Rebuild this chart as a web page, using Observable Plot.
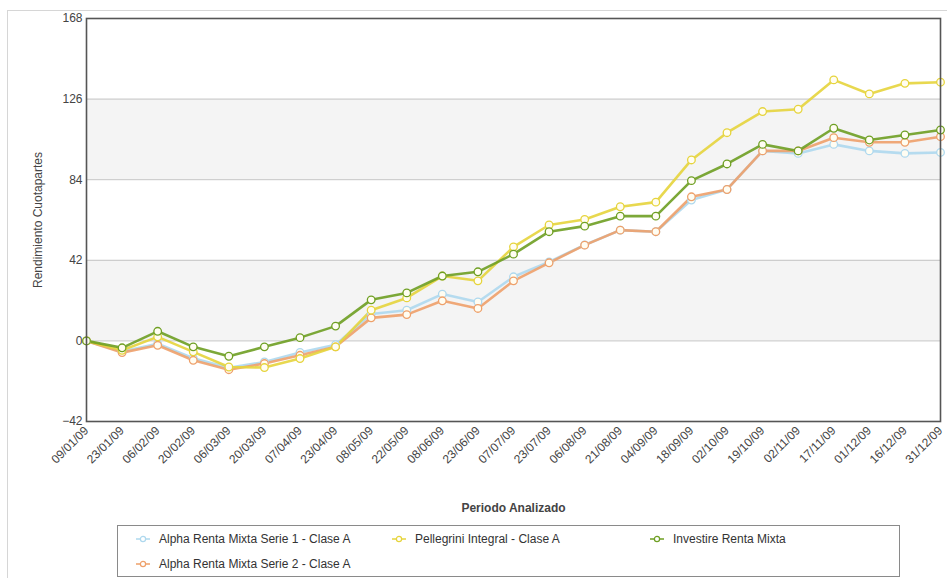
<!DOCTYPE html>
<html><head><meta charset="utf-8">
<script src="https://cdn.jsdelivr.net/npm/d3@7"></script>
<script src="https://cdn.jsdelivr.net/npm/@observablehq/plot@0.6"></script>
<style>
body{margin:0;background:#fff;font-family:"Liberation Sans",Arial,sans-serif;}
#frame{position:absolute;left:7px;top:10px;width:960px;height:600px;border:1px solid #d6d6d6;}
#chart{position:absolute;left:0;top:0;}
#chart svg [aria-label="x-axis label"] text{font-weight:bold;}
#legend{position:absolute;left:117px;top:525px;width:783px;height:52px;border:1px solid #8a8a8a;box-sizing:border-box;
  display:grid;grid-template-columns:256px 258px 260px;grid-auto-rows:25px;padding:0 0 0 17px;align-content:center;
  font-size:12px;color:#333;}
#legend .it{display:flex;align-items:center;gap:8px;white-space:nowrap;}
</style></head>
<body>
<div id="frame"></div>
<div id="chart"></div>
<div id="legend"></div>
<script>
const dates = ["09/01/09","23/01/09","06/02/09","20/02/09","06/03/09","20/03/09","07/04/09","23/04/09","08/05/09","22/05/09","08/06/09","23/06/09","07/07/09","23/07/09","06/08/09","21/08/09","04/09/09","18/09/09","02/10/09","19/10/09","02/11/09","17/11/09","01/12/09","16/12/09","31/12/09"];
const seriesNames = ["Alpha Renta Mixta Serie 1 - Clase A","Pellegrini Integral - Clase A","Investire Renta Mixta","Alpha Renta Mixta Serie 2 - Clase A"];
const alpha1 = [0,-5.5,-1.5,-9,-14,-11,-6,-2,14,16,24.4,20.3,33.4,41.2,50,57.7,56.9,73.4,78.9,99,97.7,102.4,99,97.7,98.2];
const pellegrini = [0,-4.9,2.1,-5.7,-13.6,-13.9,-9.2,-3.1,16,22.4,33.8,31.3,49,60.4,63.3,69.9,72.3,94.3,108.5,119.5,120.7,136,128.7,134.2,134.8];
const investire = [0,-3.6,5,-3.1,-8,-3.1,1.7,7.7,21.4,25,33.8,36,45.2,56.9,59.8,65,65,83.5,92.2,102.4,99,110.8,104.7,107.3,109.9];
const alpha2 = [0,-6.1,-2.3,-10.1,-15,-11.8,-7.5,-3.1,12,13.7,20.9,16.9,31.3,40.7,49.9,57.7,56.9,75.1,78.9,99,99,105.9,103.5,103.5,106.4];
const colors = ["#aed8ee","#e6d43c","#6e9f22","#eea06a"];
const yTicks = [-42,0,42,84,126,168];
const bandLo = [0,84], bandHi = [42,126];

const valuesBySeries = [alpha1,pellegrini,investire,alpha2];
const drawOrder = [0,3,1,2];
const rows = drawOrder.flatMap(s => dates.map((d,i)=>({date:d, value:valuesBySeries[s][i], series:seriesNames[s]})));
const bands = bandLo.map((lo,i)=>({lo, hi:bandHi[i]}));

const plot = Plot.plot({
  width: 947, height: 520,
  marginLeft: 86, marginRight: 7, marginTop: 18, marginBottom: 99,
  style:{fontFamily:'"Liberation Sans",Arial,sans-serif', fontSize:"12px", color:"#444", background:"transparent"},
  x:{type:"point", domain:dates, padding:0, round:false, label:"Periodo Analizado", labelAnchor:"center", labelOffset:90, tickSize:0, tickPadding:7, tickRotate:-45},
  y:{domain:[-42,168], ticks:yTicks, label:"Rendimiento Cuotapartes", labelAnchor:"center", labelOffset:53, tickSize:0, tickPadding:4, labelArrow:"none"},
  color:{domain:seriesNames, range:colors},
  marks:[
    Plot.rect(bands, {y1:"lo", y2:"hi", fill:"#f4f4f4"}),
    Plot.ruleY(yTicks.filter(t=>t>-42 && t<168), {stroke:"#c4c4c4", strokeWidth:1}),
    Plot.line(rows, {x:"date", y:"value", z:"series", stroke:"series", strokeWidth:2.6, strokeOpacity:0.9}),
    Plot.dot(rows, {x:"date", y:"value", z:"series", stroke:"series", fill:"#fffdf2", r:3.8, strokeWidth:1.3}),
    Plot.frame({stroke:"#555", strokeWidth:1.6})
  ]
});
document.getElementById("chart").appendChild(plot);

const legend = document.getElementById("legend");
const legendOrder = [0,1,2,3];
legendOrder.forEach(s=>{
  const it = document.createElement("div");
  it.className = "it";
  it.innerHTML = `<svg width="16" height="10"><line x1="1" y1="5" x2="15" y2="5" stroke="${colors[s]}" stroke-width="1.5"/><circle cx="8" cy="5" r="2.6" fill="#fff" stroke="${colors[s]}" stroke-width="1.2"/></svg><span>${seriesNames[s]}</span>`;
  legend.appendChild(it);
});
</script>
</body></html>
